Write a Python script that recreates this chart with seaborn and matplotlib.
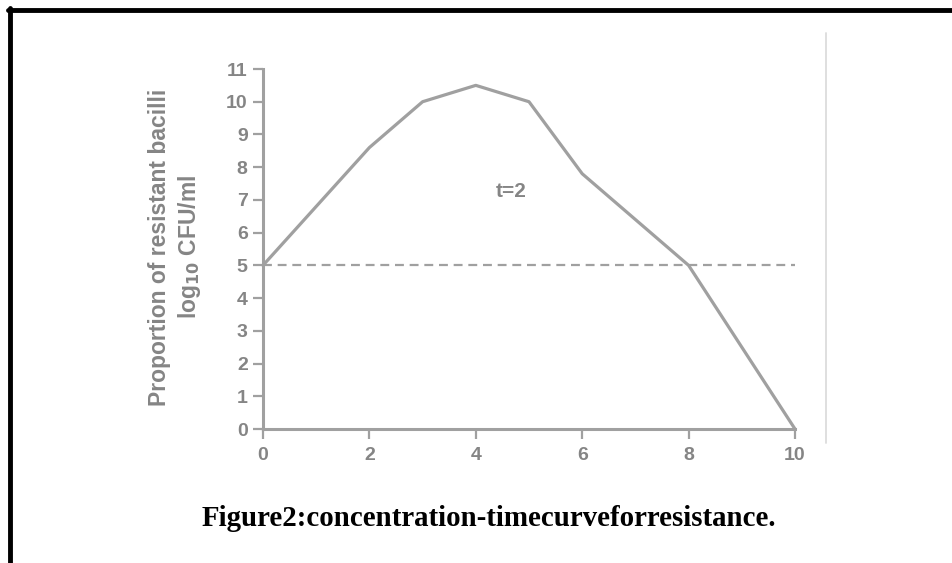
import matplotlib
matplotlib.use("Agg")
import matplotlib.pyplot as plt
import seaborn as sns
import pandas as pd
from matplotlib.lines import Line2D

# values
time_points = [0, 2, 3, 4, 5, 6, 8, 10]
log_cfu = [5.0, 8.6, 10.0, 10.5, 10.0, 7.8, 5.0, 0.0]
threshold = 5
x_ticks = [0, 2, 4, 6, 8, 10]
y_ticks = list(range(0, 12))

line_col = "#a0a0a0"
text_col = "#858585"

sns.set_style("ticks")
plt.rcParams["font.family"] = ["Liberation Sans", "DejaVu Sans"]

df = pd.DataFrame({"t": time_points, "cfu": log_cfu})

fig = plt.figure(figsize=(9.52, 5.63), dpi=100)
ax = fig.add_axes([263 / 952, 1 - 429 / 563, (795 - 263) / 952, (429 - 69) / 563])

sns.lineplot(data=df, x="t", y="cfu", ax=ax, color=line_col, lw=2.3, clip_on=False)
ax.plot([0, 10], [threshold, threshold], color=line_col, lw=1.6,
        linestyle=(0, (4, 2.6)), clip_on=False)

ax.text(4.67, 7.26, "t=2", color=text_col, fontsize=15, fontweight="bold",
        ha="center", va="center")

ax.set_xlim(0, 10)
ax.set_ylim(0, 11)
ax.set_xticks(x_ticks)
ax.set_yticks(y_ticks)
ax.set_xlabel("")
ax.set_ylabel("Proportion of resistant bacilli\nlog$_{\\mathbf{10}}$ CFU/ml",
              color=text_col, fontsize=16.5, fontweight="bold", linespacing=1.25)
ax.yaxis.set_label_coords(-0.113, 0.505)

sns.despine(ax=ax)
for side in ["left", "bottom"]:
    ax.spines[side].set_color(line_col)
    ax.spines[side].set_linewidth(2.2)
ax.tick_params(colors=line_col, width=1.6, length=7, labelcolor=text_col,
               labelsize=14)
ax.tick_params(axis="x", pad=6)
ax.tick_params(axis="y", pad=4)
for lab in ax.get_xticklabels() + ax.get_yticklabels():
    lab.set_fontweight("bold")

# page frame pieces and caption
fig.add_artist(Line2D([10 / 952, 10 / 952], [0, 1 - 8 / 563], color="black", lw=3.5))
fig.add_artist(Line2D([8 / 952, 1], [1 - 10 / 563, 1 - 10 / 563], color="black", lw=3.5))
fig.add_artist(Line2D([826 / 952, 826 / 952], [1 - 443 / 563, 1 - 33 / 563],
                      color="#dcdcdc", lw=1.3))

fig.text(489 / 952, 1 - 518 / 563, "Figure2:concentration-timecurveforresistance.",
         family=["Liberation Serif", "DejaVu Serif"], fontweight="bold",
         fontsize=20.8, ha="center", va="center", color="black")

fig.savefig("out.png", dpi=100)
